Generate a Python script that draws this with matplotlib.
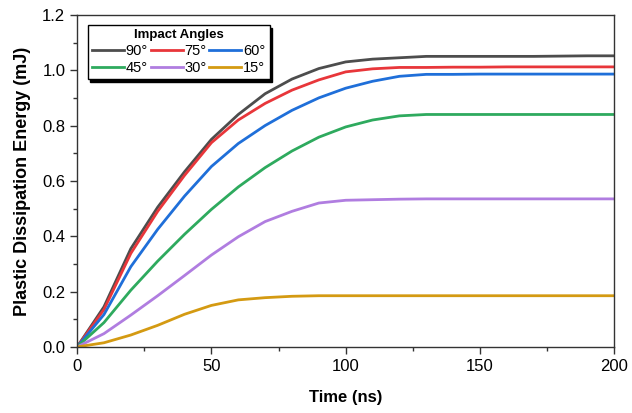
import matplotlib
matplotlib.use("Agg")
import matplotlib.pyplot as plt
from matplotlib.ticker import MultipleLocator, FormatStrFormatter

plt.rcParams['font.family'] = ['Liberation Sans', 'DejaVu Sans']

time_ns = [0, 10, 20, 30, 40, 50, 60, 70, 80, 90, 100, 110, 120, 130, 140, 150, 160, 170, 180, 190, 200]
e90 = [0, 0.145, 0.355, 0.505, 0.633, 0.75, 0.84, 0.915, 0.968, 1.006, 1.03, 1.04, 1.045, 1.05, 1.05, 1.05, 1.05, 1.05, 1.051, 1.052, 1.052]
e75 = [0, 0.135, 0.338, 0.49, 0.62, 0.738, 0.82, 0.88, 0.928, 0.965, 0.994, 1.005, 1.01, 1.01, 1.011, 1.011, 1.012, 1.012, 1.012, 1.012, 1.012]
e60 = [0, 0.117, 0.29, 0.425, 0.545, 0.652, 0.735, 0.80, 0.855, 0.90, 0.935, 0.96, 0.978, 0.985, 0.985, 0.986, 0.986, 0.986, 0.986, 0.986, 0.986]
e45 = [0, 0.088, 0.205, 0.31, 0.407, 0.497, 0.578, 0.648, 0.708, 0.758, 0.795, 0.82, 0.835, 0.84, 0.84, 0.84, 0.84, 0.84, 0.84, 0.84, 0.84]
e30 = [0, 0.048, 0.115, 0.185, 0.258, 0.332, 0.398, 0.453, 0.49, 0.52, 0.53, 0.532, 0.534, 0.535, 0.535, 0.535, 0.535, 0.535, 0.535, 0.535, 0.535]
e15 = [0, 0.015, 0.043, 0.078, 0.118, 0.15, 0.17, 0.178, 0.183, 0.185, 0.185, 0.185, 0.185, 0.185, 0.185, 0.185, 0.185, 0.185, 0.185, 0.185, 0.185]

labels = ['90°', '75°', '60°', '45°', '30°', '15°']
series = [e90, e75, e60, e45, e30, e15]
colors = ['#4d4d4d', '#e8363a', '#1f6fd9', '#2eaa5e', '#b07de0', '#d49a12']

fig = plt.figure(figsize=(6.32, 4.13), dpi=100)
ax = fig.add_axes([0.122, 0.160, 0.850, 0.804])

handles = []
for s, lab, c in zip(series, labels, colors):
    h, = ax.plot(time_ns, s, color=c, lw=2, label=lab)
    handles.append(h)

ax.set_xlim(0, 200)
ax.set_ylim(0, 1.2)
ax.xaxis.set_major_locator(MultipleLocator(50))
ax.xaxis.set_minor_locator(MultipleLocator(25))
ax.yaxis.set_major_locator(MultipleLocator(0.2))
ax.yaxis.set_minor_locator(MultipleLocator(0.1))
ax.yaxis.set_major_formatter(FormatStrFormatter('%.1f'))
ax.tick_params(axis='both', which='major', direction='out', length=5, width=1, labelsize=12, colors='#333333', labelcolor='black')
ax.tick_params(axis='both', which='minor', direction='out', length=3, width=1, colors='#333333')
for sp in ax.spines.values():
    sp.set_linewidth(1.0)
    sp.set_color('#333333')

ax.set_xlabel('Time (ns)', fontsize=12, fontweight='bold', labelpad=12)
ax.set_ylabel('Plastic Dissipation Energy (mJ)', fontsize=13, fontweight='bold', labelpad=8)

# row-major order for 3 columns x 2 rows
order = [0, 3, 1, 4, 2, 5]
leg = ax.legend([handles[i] for i in order], [labels[i] for i in order],
                ncol=3, loc='upper left', bbox_to_anchor=(0.0195, 0.970), borderaxespad=0,
                title='Impact Angles', fontsize=10.5,
                title_fontproperties={'weight': 'bold', 'size': 9.5},
                frameon=True, fancybox=False, shadow={'color': 'black', 'alpha': 1},
                handlelength=2.2, handletextpad=0.1, columnspacing=0.2, borderpad=0.3,
                labelspacing=0.2, edgecolor='black', framealpha=1)
leg.get_frame().set_linewidth(1.0)

fig.savefig('out.png', dpi=100)
